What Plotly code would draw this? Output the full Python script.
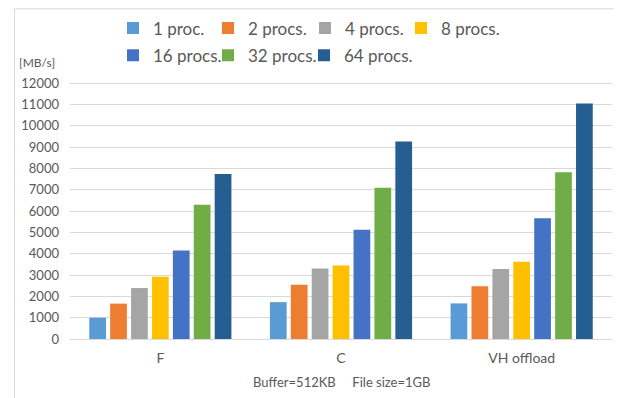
import plotly.graph_objects as go

categories = ["F", "C", "VH offload"]
series_names = ["1 proc.", "2 procs.", "4 procs.", "8 procs.", "16 procs.", "32 procs.", "64 procs."]
proc1 = [1000, 1730, 1670]
proc2 = [1660, 2540, 2480]
proc4 = [2390, 3310, 3280]
proc8 = [2920, 3450, 3620]
proc16 = [4150, 5120, 5670]
proc32 = [6300, 7090, 7820]
proc64 = [7740, 9270, 11050]
y_ticks = list(range(0, 12001, 1000))
y_tick_labels = [str(v) for v in y_ticks]

values = [proc1, proc2, proc4, proc8, proc16, proc32, proc64]
colors = ["#5B9BD5", "#ED7D31", "#A5A5A5", "#FFC000", "#4472C4", "#70AD47", "#255E91"]

FONT = "Lato"
GRAY = "#595959"

Y_MAX = 12150
# page body has an 8px margin: work in screen coords and subtract OFF
OFF = 8
W, H = 622 - OFF, 398 - OFF
plot_left, plot_right, plot_bottom = 70, 612, 339
px_per_unit = (339 - 83) / 12000
plot_top = plot_bottom - Y_MAX * px_per_unit
L = plot_left - OFF
R = W - (plot_right - OFF)
T = plot_top - OFF
B = H - (plot_bottom - OFF)
pw, ph = W - L - R, H - T - B

def px_x(x):
    return (x - OFF - L) / pw

def px_y(y):
    return (H - B - (y - OFF)) / ph

# legend entries: (text start x, row center y) in screen pixels
legend_pos = [(149, 28.3), (244, 28.3), (341, 28.3), (437, 28.3),
              (149, 55.5), (244, 55.5), (340, 55.5)]

fig = go.Figure()
legend_layout = {}
for i, (name, vals, col) in enumerate(zip(series_names, values, colors)):
    key = "legend" if i == 0 else f"legend{i + 1}"
    fig.add_trace(go.Bar(
        x=categories, y=vals, name=name,
        marker=dict(color=col, line=dict(width=0)),
        legend=key, showlegend=True,
    ))
    tx, ty = legend_pos[i]
    legend_layout[key] = dict(
        x=px_x(tx - 36), y=px_y(ty), xanchor="left", yanchor="middle",
        orientation="h", font=dict(family=FONT, size=17, color=GRAY),
        bgcolor="rgba(0,0,0,0)",
    )

fig.update_layout(
    width=W, height=H,
    showlegend=True,
    margin=dict(l=L, r=R, t=T, b=B, autoexpand=False),
    paper_bgcolor="white", plot_bgcolor="white",
    barmode="group", bargap=0.19, bargroupgap=0.2,
    font=dict(family=FONT, color=GRAY),
    xaxis=dict(
        showgrid=False, showline=False, ticks="",
        tickfont=dict(family=FONT, size=14, color=GRAY),
        ticklabelstandoff=9,
    ),
    yaxis=dict(
        range=[0, Y_MAX], tickmode="array", tickvals=y_ticks, ticktext=y_tick_labels,
        ticklabeloverflow="allow",
        showgrid=True, gridcolor="#D9D9D9", gridwidth=1,
        zeroline=True, zerolinecolor="#D9D9D9", zerolinewidth=1,
        showline=False, ticks="",
        tickfont=dict(family=FONT, size=13, color=GRAY),
        ticklabelstandoff=10,
    ),
    shapes=[dict(
        type="rect", xref="paper", yref="paper",
        x0=px_x(14.5), x1=px_x(614.5), y0=px_y(420), y1=px_y(8.5),
        line=dict(color="#D9D9D9", width=1), fillcolor="rgba(0,0,0,0)", layer="below",
    )],
    annotations=[
        dict(text="[MB/s]", xref="paper", yref="paper", x=px_x(57), y=px_y(62.7),
             xanchor="right", yanchor="middle", showarrow=False,
             font=dict(family=FONT, size=12, color=GRAY)),
        dict(text="Buffer=512KB\u00a0\u00a0\u00a0\u00a0\u00a0File size=1GB", xref="paper", yref="paper",
             x=0.5, y=px_y(382), xanchor="center", yanchor="middle", showarrow=False,
             font=dict(family=FONT, size=13, color=GRAY)),
    ],
    **legend_layout,
)

fig.write_html("out.html")
